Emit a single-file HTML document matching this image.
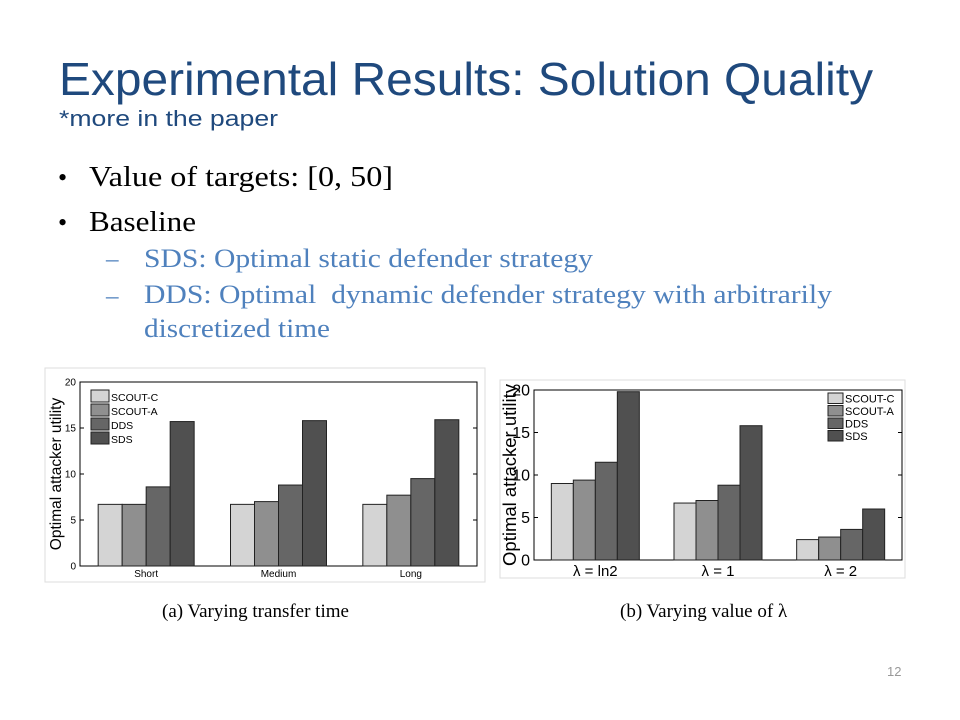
<!DOCTYPE html>
<html><head><meta charset="utf-8"><style>
body{margin:0;width:960px;height:720px;background:#fff;position:relative;overflow:hidden;font-family:"Liberation Serif",serif}
.t{position:absolute;white-space:nowrap;line-height:1;transform-origin:0 0}
</style></head><body>
<div class="t fit" data-w="814" style="left:59px;top:52px;font:46px 'Liberation Sans',sans-serif;color:#1f497d">Experimental Results: Solution Quality</div>
<div class="t fit" data-w="219" style="left:59px;top:106px;font:22px 'Liberation Sans',sans-serif;color:#1f497d">*more in the paper</div>
<div class="t" style="left:58px;top:165px;font-size:26px">•</div>
<div class="t fit" data-w="304" style="left:89px;top:164px;font-size:28px;color:#000">Value of targets: [0, 50]</div>
<div class="t" style="left:58px;top:210px;font-size:26px">•</div>
<div class="t fit" data-w="107" style="left:89px;top:209px;font-size:28px;color:#000">Baseline</div>
<div class="t" style="left:106px;top:247px;font-size:25px;color:#4f81bd">–</div>
<div class="t fit" data-w="449" style="left:144px;top:246px;font-size:26px;color:#4f81bd">SDS: Optimal static defender strategy</div>
<div class="t" style="left:106px;top:284px;font-size:25px;color:#4f81bd">–</div>
<div class="t fit" data-w="688" style="left:144px;top:282px;font-size:26px;color:#4f81bd">DDS: Optimal&nbsp; dynamic defender strategy with arbitrarily</div>
<div class="t fit" data-w="186" style="left:144px;top:316px;font-size:26px;color:#4f81bd">discretized time</div>
<div class="t" style="left:162px;top:602px;font-size:19px;color:#000">(a) Varying transfer time</div>
<div class="t" style="left:620px;top:602px;font-size:19px;color:#000">(b) Varying value of λ</div>
<div class="t" style="left:887px;top:664px;font:13px 'Liberation Sans',sans-serif;color:#999">12</div>
<svg id="s" width="960" height="720" style="position:absolute;left:0;top:0"></svg>
<script>
document.querySelectorAll('.fit').forEach(d=>{const w=d.getBoundingClientRect().width;d.style.transform='scaleX('+(+d.dataset.w/w)+')';});
const seriesNames=["SCOUT-C","SCOUT-A","DDS","SDS"];
const catsA=["Short","Medium","Long"];
const valsA=[[6.7,6.7,6.7],[6.7,7.0,7.7],[8.6,8.8,9.5],[15.7,15.8,15.9]];
const ticksA=[0,5,10,15,20];
const catsB=["λ = ln2","λ = 1","λ = 2"];
const valsB=[[9.0,6.7,2.4],[9.4,7.0,2.7],[11.5,8.8,3.6],[19.8,15.8,6.0]];
const ticksB=[0,5,10,15,20];
const colors=["#d4d4d4","#8f8f8f","#666","#505050"];
const S=document.getElementById('s'),NS="http://www.w3.org/2000/svg";
function el(t,a,txt){const e=document.createElementNS(NS,t);for(const k in a)e.setAttribute(k,a[k]);if(txt!==undefined)e.textContent=txt;S.appendChild(e);return e;}
function chart(o){
  const y=v=>o.y0-(v/o.max)*(o.y0-o.y1);
  let e=el('rect',{x:o.bx,y:o.by,width:o.bw,height:o.bh,fill:'#fff',stroke:'#ddd'});
  
  e=el('rect',{x:o.x0,y:o.y1,width:o.x1-o.x0,height:o.y0-o.y1,fill:'none',stroke:'#000','stroke-width':1});
  
  o.ticks.forEach(t=>{
    el('line',{x1:o.x0,x2:o.x0+4,y1:y(t),y2:y(t),stroke:'#000'});
    el('line',{x1:o.x1,x2:o.x1-4,y1:y(t),y2:y(t),stroke:'#000'});
    e=el('text',{x:o.x0-4,y:y(t)+o.tf/3,'text-anchor':'end','font-size':o.tf,'font-family':'Liberation Sans,sans-serif'},t);
    
  });
  const gw=(o.x1-o.x0)/o.cats.length, bw=o.barW;
  o.cats.forEach((c,i)=>{
    const cx=o.x0+gw*(i+0.5);
    o.vals.forEach((sv,s)=>{
      const bx=cx-2*bw+s*bw;
      e=el('rect',{x:bx,y:y(sv[i]),width:bw,height:o.y0-y(sv[i]),fill:colors[s],stroke:'#222','stroke-width':1});
      
    });
    e=el('text',{x:cx,y:o.y0+o.xf+1,'text-anchor':'middle','font-size':o.xf,'font-family':'Liberation Sans,sans-serif'},c);
    
  });
  e=el('text',{x:0,y:0,transform:`translate(${o.ax},${(o.y0+o.y1)/2}) rotate(-90)`,'text-anchor':'middle','font-size':o.af,'font-family':'Liberation Sans,sans-serif'},'Optimal attacker utility');
  
  seriesNames.forEach((n,s)=>{
    const ly=o.ly+s*o.lh;
    e=el('rect',{x:o.lx,y:ly,width:o.lw,height:o.lh-2,fill:colors[s],stroke:'#222'});
    
    e=el('text',{x:o.lx+o.lw+2,y:ly+o.lh-3,'font-size':o.lf,'font-family':'Liberation Sans,sans-serif'},n);
    
  });
}
chart({id:'chart-a',cats:catsA,vals:valsA,ticks:ticksA,max:20,bx:45,by:368,bw:440,bh:214,x0:80,x1:477,y0:566,y1:382,barW:24,tf:10,xf:10,af:15.5,ax:61,lx:91,ly:390,lw:18,lh:14,lf:10.5});
chart({id:'chart-b',cats:catsB,vals:valsB,ticks:ticksB,max:20,bx:500,by:380,bw:405,bh:198,x0:534,x1:902,y0:560,y1:390,barW:22,tf:16,xf:15,af:18.5,ax:516,lx:828,ly:393,lw:15,lh:12.5,lf:11});
</script>
</body></html>
